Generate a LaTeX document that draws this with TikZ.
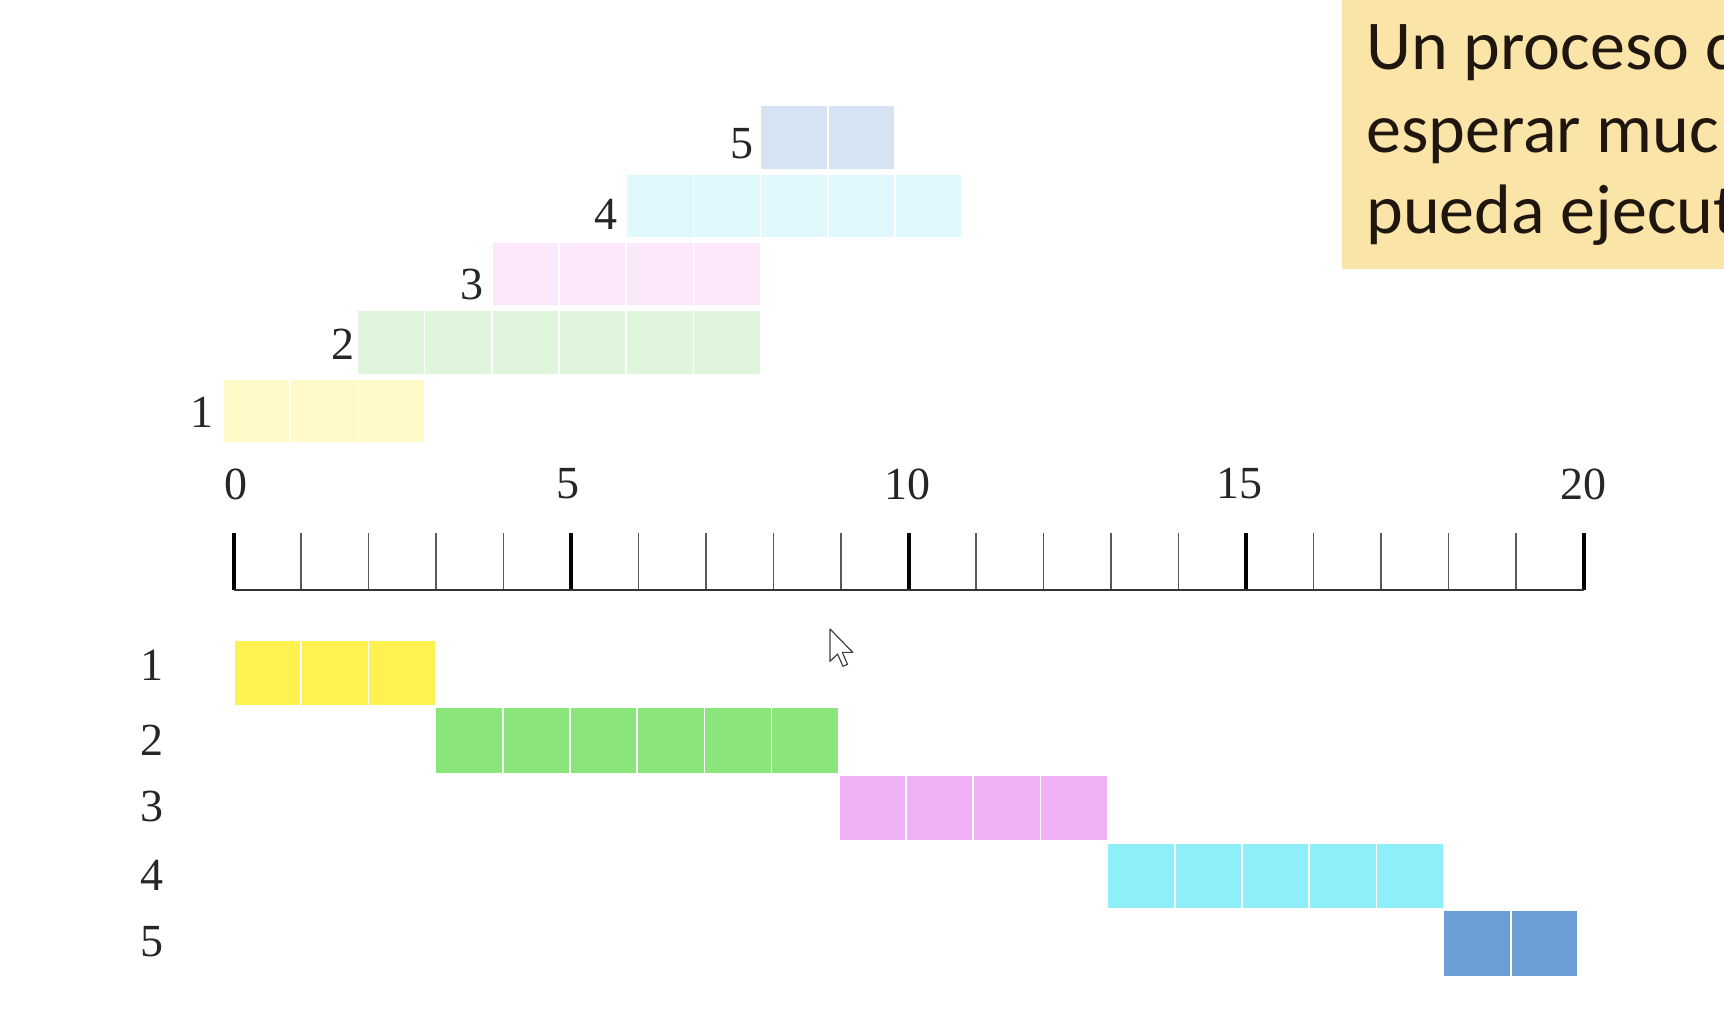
\documentclass[tikz,border=0pt]{standalone}
\usepackage{fontspec}
\setmainfont{Liberation Serif}
\newfontfamily\notefont{Carlito}
\definecolor{noteFill}{RGB}{251,228,168}
\definecolor{noteText}{RGB}{30,22,15}
\definecolor{cY}{RGB}{255,242,80}
\definecolor{cG}{RGB}{138,230,122}
\definecolor{cP}{RGB}{240,176,246}
\definecolor{cC}{RGB}{142,239,251}
\definecolor{cB}{RGB}{108,158,214}
\definecolor{lY}{RGB}{255,250,200}
\definecolor{lG}{RGB}{224,246,220}
\definecolor{lP}{RGB}{251,232,250}
\definecolor{lC}{RGB}{223,249,253}
\definecolor{lB}{RGB}{214,227,243}
\tikzset{
  num/.style={font=\fontsize{23}{26}\selectfont, inner sep=0pt, text=black!85},
  cell/.style={draw=white, line width=0.8pt},
  majortick/.style={line width=2pt, black},
  minortick/.style={line width=0.7pt, black!65},
  notetext/.style={font=\notefont\fontsize{35}{42}\selectfont, text=noteText, inner sep=0pt, anchor=base west}
}
\begin{document}
\begin{tikzpicture}[x=0.5pt,y=-0.5pt]
\useasboundingbox (0,0) rectangle (1724,1028);
\clip (0,0) rectangle (1724,1028);
\fill[white] (0,0) rectangle (1724,1028);

% note box (cut off at the right edge)
\fill[noteFill] (1342,0) rectangle (1730,269);
\node[notetext] (n1) at (1366,69) {Un proceso c};
\node[notetext] (n2) at (1366,152) {esperar muc};
\node[notetext] (n3) at (1366,233) {pueda ejecut};

% top (arrival) bars
\def\tu{67.2}
\foreach \i/\a/\len/\col in {1/0/3/lY, 2/2/6/lG, 3/4/4/lP, 4/6/5/lC, 5/8/2/lB}{
  \pgfmathsetmacro{\ytop}{379-(\i-1)*68.4}
  \foreach \k in {1,...,\len}{
    \pgfmathsetmacro{\xa}{223+(\a+\k-1)*\tu}
    \fill[\col, cell] (\xa,\ytop) rectangle (\xa+\tu,\ytop+64);
  }
}
\node[num] (t1) at (202,412) {1};
\node[num] (t2) at (343,344) {2};
\node[num] (t3) at (472,284) {3};
\node[num] (t4) at (606,214) {4};
\node[num] (t5) at (742,144) {5};

% time axis
\foreach \k in {0,...,20}{
  \pgfmathsetmacro{\xt}{233.5+\k*67.5}
  \pgfmathtruncatemacro{\m}{mod(\k,5)}
  \ifnum\m=0
    \draw[majortick] (\xt,533) -- (\xt,590);
  \else
    \draw[minortick] (\xt,533) -- (\xt,590);
  \fi
}
\draw[line width=1pt, black!80] (233.5,590) -- (1583.5,590);
\node[num] (a0) at (236,484) {0};
\node[num] (a5) at (568,484) {5};
\node[num] (a10) at (907,484) {10};
\node[num] (a15) at (1239,484) {15};
\node[num] (a20) at (1583,484) {20};

% bottom (execution) bars
\foreach \i/\s/\len/\col in {1/0/3/cY, 2/3/6/cG, 3/9/4/cP, 4/13/5/cC, 5/18/2/cB}{
  \pgfmathsetmacro{\ytop}{640+(\i-1)*67.6}
  \foreach \k in {1,...,\len}{
    \pgfmathsetmacro{\xa}{234+(\s+\k-1)*\tu}
    \fill[\col, cell] (\xa,\ytop) rectangle (\xa+\tu,\ytop+66);
  }
}
\node[num] (b1) at (152,665) {1};
\node[num] (b2) at (152,740) {2};
\node[num] (b3) at (152,806) {3};
\node[num] (b4) at (152,875) {4};
\node[num] (b5) at (152,942) {5};

% mouse pointer
\begin{scope}[shift={(830,629)}, scale=1.9]
  \filldraw[fill=white, draw=black!75, line width=0.6pt, line join=round]
    (0,0) -- (0,17) -- (4,13.2) -- (6.8,19.6) -- (9.2,18.6) -- (6.5,12.3) -- (12,12.3) -- cycle;
\end{scope}
\end{tikzpicture}
\end{document}
